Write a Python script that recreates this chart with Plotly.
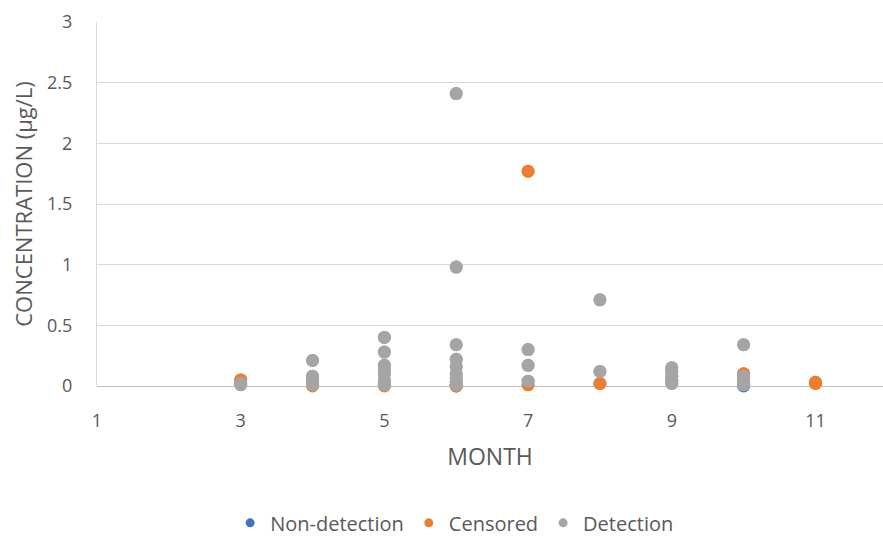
import plotly.graph_objects as go

# Sample concentrations (µg/L) by month, split by result type
nondetect_month = [6, 10]
nondetect_conc = [0.0, 0.0]

censored_month = [3, 4, 5, 6, 7, 7, 8, 10, 11, 11, 12]
censored_conc = [0.05, 0.0, 0.0, 0.0, 1.77, 0.01, 0.02, 0.10, 0.02, 0.03, 0.01]

detect_month = [3, 3,
                4, 4, 4, 4,
                5, 5, 5, 5, 5, 5, 5, 5,
                6, 6, 6, 6, 6, 6, 6, 6, 6,
                7, 7, 7,
                8, 8,
                9, 9, 9, 9, 9,
                10, 10, 10, 10, 10]
detect_conc = [0.01, 0.02,
               0.21, 0.08, 0.04, 0.01,
               0.40, 0.28, 0.17, 0.13, 0.10, 0.05, 0.02, 0.01,
               2.41, 0.98, 0.34, 0.22, 0.16, 0.10, 0.06, 0.03, 0.01,
               0.30, 0.17, 0.04,
               0.71, 0.12,
               0.15, 0.12, 0.08, 0.04, 0.02,
               0.34, 0.08, 0.05, 0.02, 0.01]

x_ticks = [1, 3, 5, 7, 9, 11]
y_ticks = [0, 0.5, 1, 1.5, 2, 2.5, 3]
y_tick_text = ["0", "0.5", "1", "1.5", "2", "2.5", "3"]

BLUE = "#4472C4"
ORANGE = "#ED7D31"
GRAY = "#A5A5A5"
TEXT = "#595959"
FONT = "Open Sans"
X_MAX = 11.94  # right edge of the plotting area (month units)

series = [
    ("Non-detection", nondetect_month, nondetect_conc, BLUE),
    ("Censored", censored_month, censored_conc, ORANGE),
    ("Detection", detect_month, detect_conc, GRAY),
]

fig = go.Figure()
for name, xs, ys, col in series:
    # markers sitting on the zero line stay whole
    fig.add_trace(go.Scatter(
        x=xs, y=ys, mode="markers", name=name, legendgroup=name,
        showlegend=False, cliponaxis=False,
        marker=dict(color=col, size=13, line=dict(width=0)),
    ))
    # same points clipped to the plot area, so a marker on the right edge is cut
    fig.add_trace(go.Scatter(
        x=xs, y=ys, mode="markers", name=name, legendgroup=name,
        showlegend=False, cliponaxis=True, hoverinfo="skip",
        marker=dict(color=col, size=13, line=dict(width=0)),
    ))

# legend entries with small dots
for name, _, _, col in series:
    fig.add_trace(go.Scatter(
        x=[None], y=[None], mode="markers", name=name, legendgroup=name,
        marker=dict(color=col, size=9),
    ))

fig.update_layout(
    width=883, height=537,
    margin=dict(l=97, r=0, t=22, b=151, autoexpand=False),
    paper_bgcolor="white", plot_bgcolor="white",
    font=dict(family=FONT, color=TEXT, size=18),
    legend=dict(
        orientation="h", x=0.455, xanchor="center", y=-0.376, yanchor="middle",
        font=dict(size=20, color=TEXT, family=FONT), itemsizing="trace",
        itemwidth=30, traceorder="normal", bgcolor="rgba(0,0,0,0)",
        borderwidth=0,
    ),
    showlegend=True,
)

fig.update_xaxes(
    range=[1, X_MAX], tickvals=x_ticks, ticktext=[str(v) for v in x_ticks],
    showgrid=False, zeroline=False, showline=False,
    ticks="outside", ticklen=18, tickcolor="rgba(0,0,0,0)",
    tickfont=dict(size=18, color=TEXT),
    title=dict(text="MONTH", font=dict(size=23, color=TEXT), standoff=18),
)
fig.update_yaxes(
    range=[0, 3], tickvals=y_ticks, ticktext=y_tick_text,
    showgrid=True, gridcolor="#D9D9D9", gridwidth=1,
    zeroline=True, zerolinecolor="#BFBFBF", zerolinewidth=1,
    showline=True, linecolor="#D9D9D9", linewidth=1,
    ticks="outside", ticklen=20, tickcolor="rgba(0,0,0,0)",
    tickfont=dict(size=18, color=TEXT),
    title=dict(text="CONCENTRATION (µg/L)", font=dict(size=22, color=TEXT), standoff=8),
)

fig.write_html("out.html")
